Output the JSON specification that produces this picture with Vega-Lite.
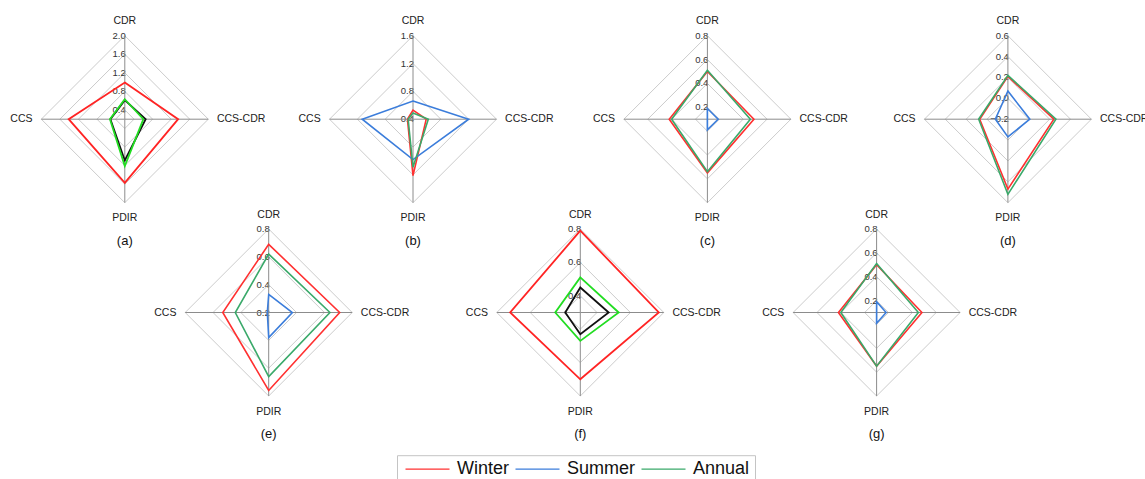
{
  "$schema": "https://vega.github.io/schema/vega-lite/v6.json",
  "padding": {"left": 0, "top": 15.7, "right": 0, "bottom": 0},
  "config": {
    "font": "Liberation Sans",
    "view": {"stroke": null},
    "legend": {"symbolType": "M-1,0H7", "symbolSize": 121, "symbolStrokeWidth": 1.3, "labelFontSize": 18, "labelColor": "#111111", "labelOffset": 37, "columnPadding": 2, "strokeColor": "#c4c4c4", "padding": 5, "labelFont": "Liberation Sans"}
  },
  "datasets": {
    "axes": [{"axis": "CDR"}, {"axis": "CCS-CDR"}, {"axis": "PDIR"}, {"axis": "CCS"}],
    "radar": [
      {"panel": "a", "season": "Winter", "axis": "CDR", "value": 0.99},
      {"panel": "a", "season": "Winter", "axis": "CCS-CDR", "value": 1.35},
      {"panel": "a", "season": "Winter", "axis": "PDIR", "value": 1.57},
      {"panel": "a", "season": "Winter", "axis": "CCS", "value": 1.41},
      {"panel": "a", "season": "Summer", "axis": "CDR", "value": 0.61},
      {"panel": "a", "season": "Summer", "axis": "CCS-CDR", "value": 0.65},
      {"panel": "a", "season": "Summer", "axis": "PDIR", "value": 1.09},
      {"panel": "a", "season": "Summer", "axis": "CCS", "value": 0.51},
      {"panel": "a", "season": "Annual", "axis": "CDR", "value": 0.63},
      {"panel": "a", "season": "Annual", "axis": "CCS-CDR", "value": 0.6},
      {"panel": "a", "season": "Annual", "axis": "PDIR", "value": 1.21},
      {"panel": "a", "season": "Annual", "axis": "CCS", "value": 0.52},
      {"panel": "b", "season": "Winter", "axis": "CDR", "value": 0.53},
      {"panel": "b", "season": "Winter", "axis": "CCS-CDR", "value": 0.59},
      {"panel": "b", "season": "Winter", "axis": "PDIR", "value": 1.21},
      {"panel": "b", "season": "Winter", "axis": "CCS", "value": 0.48},
      {"panel": "b", "season": "Summer", "axis": "CDR", "value": 0.66},
      {"panel": "b", "season": "Summer", "axis": "CCS-CDR", "value": 1.2},
      {"panel": "b", "season": "Summer", "axis": "PDIR", "value": 0.98},
      {"panel": "b", "season": "Summer", "axis": "CCS", "value": 1.13},
      {"panel": "b", "season": "Annual", "axis": "CDR", "value": 0.49},
      {"panel": "b", "season": "Annual", "axis": "CCS-CDR", "value": 0.62},
      {"panel": "b", "season": "Annual", "axis": "PDIR", "value": 1.09},
      {"panel": "b", "season": "Annual", "axis": "CCS", "value": 0.47},
      {"panel": "c", "season": "Winter", "axis": "CDR", "value": 0.5},
      {"panel": "c", "season": "Winter", "axis": "CCS-CDR", "value": 0.49},
      {"panel": "c", "season": "Winter", "axis": "PDIR", "value": 0.55},
      {"panel": "c", "season": "Winter", "axis": "CCS", "value": 0.42},
      {"panel": "c", "season": "Summer", "axis": "CDR", "value": 0.19},
      {"panel": "c", "season": "Summer", "axis": "CCS-CDR", "value": 0.19},
      {"panel": "c", "season": "Summer", "axis": "PDIR", "value": 0.19},
      {"panel": "c", "season": "Summer", "axis": "CCS", "value": 0.1},
      {"panel": "c", "season": "Annual", "axis": "CDR", "value": 0.51},
      {"panel": "c", "season": "Annual", "axis": "CCS-CDR", "value": 0.46},
      {"panel": "c", "season": "Annual", "axis": "PDIR", "value": 0.54},
      {"panel": "c", "season": "Annual", "axis": "CCS", "value": 0.4},
      {"panel": "d", "season": "Winter", "axis": "CDR", "value": 0.21},
      {"panel": "d", "season": "Winter", "axis": "CCS-CDR", "value": 0.24},
      {"panel": "d", "season": "Winter", "axis": "PDIR", "value": 0.47},
      {"panel": "d", "season": "Winter", "axis": "CCS", "value": 0.07},
      {"panel": "d", "season": "Summer", "axis": "CDR", "value": 0.07},
      {"panel": "d", "season": "Summer", "axis": "CCS-CDR", "value": 0.01},
      {"panel": "d", "season": "Summer", "axis": "PDIR", "value": -0.03},
      {"panel": "d", "season": "Summer", "axis": "CCS", "value": -0.08},
      {"panel": "d", "season": "Annual", "axis": "CDR", "value": 0.22},
      {"panel": "d", "season": "Annual", "axis": "CCS-CDR", "value": 0.26},
      {"panel": "d", "season": "Annual", "axis": "PDIR", "value": 0.52},
      {"panel": "d", "season": "Annual", "axis": "CCS", "value": 0.08},
      {"panel": "e", "season": "Winter", "axis": "CDR", "value": 0.69},
      {"panel": "e", "season": "Winter", "axis": "CCS-CDR", "value": 0.71},
      {"panel": "e", "season": "Winter", "axis": "PDIR", "value": 0.76},
      {"panel": "e", "season": "Winter", "axis": "CCS", "value": 0.53},
      {"panel": "e", "season": "Summer", "axis": "CDR", "value": 0.33},
      {"panel": "e", "season": "Summer", "axis": "CCS-CDR", "value": 0.37},
      {"panel": "e", "season": "Summer", "axis": "PDIR", "value": 0.38},
      {"panel": "e", "season": "Summer", "axis": "CCS", "value": 0.21},
      {"panel": "e", "season": "Annual", "axis": "CDR", "value": 0.62},
      {"panel": "e", "season": "Annual", "axis": "CCS-CDR", "value": 0.64},
      {"panel": "e", "season": "Annual", "axis": "PDIR", "value": 0.66},
      {"panel": "e", "season": "Annual", "axis": "CCS", "value": 0.44},
      {"panel": "f", "season": "Winter", "axis": "CDR", "value": 0.79},
      {"panel": "f", "season": "Winter", "axis": "CCS-CDR", "value": 0.77},
      {"panel": "f", "season": "Winter", "axis": "PDIR", "value": 0.7},
      {"panel": "f", "season": "Winter", "axis": "CCS", "value": 0.72},
      {"panel": "f", "season": "Summer", "axis": "CDR", "value": 0.45},
      {"panel": "f", "season": "Summer", "axis": "CCS-CDR", "value": 0.47},
      {"panel": "f", "season": "Summer", "axis": "PDIR", "value": 0.43},
      {"panel": "f", "season": "Summer", "axis": "CCS", "value": 0.39},
      {"panel": "f", "season": "Annual", "axis": "CDR", "value": 0.51},
      {"panel": "f", "season": "Annual", "axis": "CCS-CDR", "value": 0.53},
      {"panel": "f", "season": "Annual", "axis": "PDIR", "value": 0.47},
      {"panel": "f", "season": "Annual", "axis": "CCS", "value": 0.45},
      {"panel": "g", "season": "Winter", "axis": "CDR", "value": 0.5},
      {"panel": "g", "season": "Winter", "axis": "CCS-CDR", "value": 0.48},
      {"panel": "g", "season": "Winter", "axis": "PDIR", "value": 0.55},
      {"panel": "g", "season": "Winter", "axis": "CCS", "value": 0.42},
      {"panel": "g", "season": "Summer", "axis": "CDR", "value": 0.19},
      {"panel": "g", "season": "Summer", "axis": "CCS-CDR", "value": 0.18},
      {"panel": "g", "season": "Summer", "axis": "PDIR", "value": 0.19},
      {"panel": "g", "season": "Summer", "axis": "CCS", "value": 0.1},
      {"panel": "g", "season": "Annual", "axis": "CDR", "value": 0.51},
      {"panel": "g", "season": "Annual", "axis": "CCS-CDR", "value": 0.45},
      {"panel": "g", "season": "Annual", "axis": "PDIR", "value": 0.55},
      {"panel": "g", "season": "Annual", "axis": "CCS", "value": 0.4}
    ]
  },
  "spacing": 0,
  "bounds": "flush",
  "hconcat": [
    {
      "width": 249.6, "height": 360.3,
      "encoding": {
        "x": {"field": "x", "type": "quantitative", "scale": {"domain": [-2.6903, 2.6903]}, "axis": null},
        "y": {"field": "y", "type": "quantitative", "scale": {"domain": [-5.9669, 1.8]}, "axis": null}
      },
      "layer": [
        {
          "data": {"values": [{"level": 0.4}, {"level": 0.8}, {"level": 1.2}, {"level": 1.6}, {"level": 2.0}]},
          "transform": [
            {"calculate": "['CDR','CCS-CDR','PDIR','CCS']", "as": "axis"},
            {"flatten": ["axis"]},
            {"calculate": "datum.level - 0.2", "as": "r"},
            {"calculate": "datum.axis === 'CCS-CDR' ? datum.r : datum.axis === 'CCS' ? -datum.r : 0", "as": "x"},
            {"calculate": "datum.axis === 'CDR' ? datum.r : datum.axis === 'PDIR' ? -datum.r : 0", "as": "y"}
          ],
          "layer": [
            {"transform": [{"filter": "datum.r > 0.0001"}], "mark": {"type": "line", "interpolate": "linear-closed", "stroke": "#cccccc", "strokeWidth": 1}, "encoding": {"detail": {"field": "level", "type": "nominal"}, "order": {"value": null}}},
            {"transform": [{"filter": "datum.axis === 'CDR'"}], "mark": {"type": "text", "align": "right", "baseline": "middle", "dx": 1, "fontSize": 9.5, "color": "#333333"}, "encoding": {"text": {"field": "level", "type": "quantitative", "format": ".1f"}}}
          ]
        },
        {
          "data": {"name": "axes"},
          "transform": [
            {"calculate": "1.8", "as": "r"},
            {"calculate": "datum.axis === 'CCS-CDR' ? datum.r : datum.axis === 'CCS' ? -datum.r : 0", "as": "x"},
            {"calculate": "datum.axis === 'CDR' ? datum.r : datum.axis === 'PDIR' ? -datum.r : 0", "as": "y"}
          ],
          "layer": [
            {"mark": {"type": "rule", "stroke": "#8c8c8c", "strokeWidth": 1}, "encoding": {"x": {"datum": 0}, "y": {"datum": 0}, "x2": {"field": "x"}, "y2": {"field": "y"}}},
            {
              "mark": {
                "type": "text", "fontSize": 10.5, "color": "#222222",
                "align": {"expr": "datum.axis === 'CCS' ? 'right' : datum.axis === 'CCS-CDR' ? 'left' : 'center'"},
                "baseline": {"expr": "datum.axis === 'CDR' || datum.axis === 'PDIR' ? 'alphabetic' : 'middle'"},
                "dx": {"expr": "datum.axis === 'CCS' ? -8.8 : datum.axis === 'CCS-CDR' ? 8.6 : 0"},
                "dy": {"expr": "datum.axis === 'CDR' ? -11.4 : datum.axis === 'PDIR' ? 18.5 : 0"}
              },
              "encoding": {"text": {"field": "axis"}}
            },
            {"transform": [{"filter": "datum.axis === 'PDIR'"}], "mark": {"type": "text", "baseline": "middle", "dy": 38, "fontSize": 13, "color": "#111111"}, "encoding": {"text": {"value": "(a)"}}}
          ]
        },
        {
          "data": {"name": "radar"},
          "transform": [
            {"filter": "datum.panel === 'a'"},
            {"calculate": "datum.value - 0.2", "as": "r"},
            {"calculate": "datum.axis === 'CCS-CDR' ? datum.r : datum.axis === 'CCS' ? -datum.r : 0", "as": "x"},
            {"calculate": "datum.axis === 'CDR' ? datum.r : datum.axis === 'PDIR' ? -datum.r : 0", "as": "y"}
          ],
          "mark": {"type": "line", "interpolate": "linear-closed", "strokeWidth": 1.8},
          "encoding": {
            "color": {"condition": [{"test": "datum.season === 'Winter'", "value": "#ff2424"}, {"test": "datum.season === 'Summer'", "value": "#111111"}], "value": "#22dd22"},
            "detail": {"field": "season", "type": "nominal"},
            "order": {"value": null}
          }
        }
      ]
    },
    {
      "width": 37.4, "height": 360.3,
      "encoding": {
        "x": {"field": "x", "type": "quantitative", "scale": {"domain": [-0.13437, 0.13437]}, "axis": null},
        "y": {"field": "y", "type": "quantitative", "scale": {"domain": [-0.6, 1.989]}, "axis": null}
      },
      "layer": [
        {
          "data": {"values": [{"level": 0.2}, {"level": 0.4}, {"level": 0.6}, {"level": 0.8}]},
          "transform": [
            {"calculate": "['CDR','CCS-CDR','PDIR','CCS']", "as": "axis"},
            {"flatten": ["axis"]},
            {"calculate": "datum.level - 0.2", "as": "r"},
            {"calculate": "datum.axis === 'CCS-CDR' ? datum.r : datum.axis === 'CCS' ? -datum.r : 0", "as": "x"},
            {"calculate": "datum.axis === 'CDR' ? datum.r : datum.axis === 'PDIR' ? -datum.r : 0", "as": "y"}
          ],
          "layer": [
            {"transform": [{"filter": "datum.r > 0.0001"}], "mark": {"type": "line", "interpolate": "linear-closed", "stroke": "#cccccc", "strokeWidth": 1}, "encoding": {"detail": {"field": "level", "type": "nominal"}, "order": {"value": null}}},
            {"transform": [{"filter": "datum.axis === 'CDR'"}], "mark": {"type": "text", "align": "right", "baseline": "middle", "dx": 1, "fontSize": 9.5, "color": "#333333"}, "encoding": {"text": {"field": "level", "type": "quantitative", "format": ".1f"}}}
          ]
        },
        {
          "data": {"name": "axes"},
          "transform": [
            {"calculate": "0.6", "as": "r"},
            {"calculate": "datum.axis === 'CCS-CDR' ? datum.r : datum.axis === 'CCS' ? -datum.r : 0", "as": "x"},
            {"calculate": "datum.axis === 'CDR' ? datum.r : datum.axis === 'PDIR' ? -datum.r : 0", "as": "y"}
          ],
          "layer": [
            {"mark": {"type": "rule", "stroke": "#8c8c8c", "strokeWidth": 1}, "encoding": {"x": {"datum": 0}, "y": {"datum": 0}, "x2": {"field": "x"}, "y2": {"field": "y"}}},
            {
              "mark": {
                "type": "text", "fontSize": 10.5, "color": "#222222",
                "align": {"expr": "datum.axis === 'CCS' ? 'right' : datum.axis === 'CCS-CDR' ? 'left' : 'center'"},
                "baseline": {"expr": "datum.axis === 'CDR' || datum.axis === 'PDIR' ? 'alphabetic' : 'middle'"},
                "dx": {"expr": "datum.axis === 'CCS' ? -8.8 : datum.axis === 'CCS-CDR' ? 8.6 : 0"},
                "dy": {"expr": "datum.axis === 'CDR' ? -11.4 : datum.axis === 'PDIR' ? 18.5 : 0"}
              },
              "encoding": {"text": {"field": "axis"}}
            },
            {"transform": [{"filter": "datum.axis === 'PDIR'"}], "mark": {"type": "text", "baseline": "middle", "dy": 38, "fontSize": 13, "color": "#111111"}, "encoding": {"text": {"value": "(e)"}}}
          ]
        },
        {
          "data": {"name": "radar"},
          "transform": [
            {"filter": "datum.panel === 'e'"},
            {"calculate": "datum.value - 0.2", "as": "r"},
            {"calculate": "datum.axis === 'CCS-CDR' ? datum.r : datum.axis === 'CCS' ? -datum.r : 0", "as": "x"},
            {"calculate": "datum.axis === 'CDR' ? datum.r : datum.axis === 'PDIR' ? -datum.r : 0", "as": "y"}
          ],
          "mark": {"type": "line", "interpolate": "linear-closed", "strokeWidth": 1.6},
          "encoding": {
            "color": {"field": "season", "type": "nominal", "scale": {"domain": ["Winter", "Summer", "Annual"], "range": ["#ff3030", "#3b7ddb", "#3aa96a"]}, "legend": {"orient": "none", "legendX": 397, "legendY": 419.5, "direction": "horizontal", "title": null}},
            "order": {"value": null}
          }
        }
      ]
    },
    {
      "width": 250, "height": 360.3,
      "encoding": {
        "x": {"field": "x", "type": "quantitative", "scale": {"domain": [-1.79641, 1.79641]}, "axis": null},
        "y": {"field": "y", "type": "quantitative", "scale": {"domain": [-3.978, 1.2]}, "axis": null}
      },
      "layer": [
        {
          "data": {"values": [{"level": 0.4}, {"level": 0.8}, {"level": 1.2}, {"level": 1.6}]},
          "transform": [
            {"calculate": "['CDR','CCS-CDR','PDIR','CCS']", "as": "axis"},
            {"flatten": ["axis"]},
            {"calculate": "datum.level - 0.4", "as": "r"},
            {"calculate": "datum.axis === 'CCS-CDR' ? datum.r : datum.axis === 'CCS' ? -datum.r : 0", "as": "x"},
            {"calculate": "datum.axis === 'CDR' ? datum.r : datum.axis === 'PDIR' ? -datum.r : 0", "as": "y"}
          ],
          "layer": [
            {"transform": [{"filter": "datum.r > 0.0001"}], "mark": {"type": "line", "interpolate": "linear-closed", "stroke": "#cccccc", "strokeWidth": 1}, "encoding": {"detail": {"field": "level", "type": "nominal"}, "order": {"value": null}}},
            {"transform": [{"filter": "datum.axis === 'CDR'"}], "mark": {"type": "text", "align": "right", "baseline": "middle", "dx": 1, "fontSize": 9.5, "color": "#333333"}, "encoding": {"text": {"field": "level", "type": "quantitative", "format": ".1f"}}}
          ]
        },
        {
          "data": {"name": "axes"},
          "transform": [
            {"calculate": "1.2", "as": "r"},
            {"calculate": "datum.axis === 'CCS-CDR' ? datum.r : datum.axis === 'CCS' ? -datum.r : 0", "as": "x"},
            {"calculate": "datum.axis === 'CDR' ? datum.r : datum.axis === 'PDIR' ? -datum.r : 0", "as": "y"}
          ],
          "layer": [
            {"mark": {"type": "rule", "stroke": "#8c8c8c", "strokeWidth": 1}, "encoding": {"x": {"datum": 0}, "y": {"datum": 0}, "x2": {"field": "x"}, "y2": {"field": "y"}}},
            {
              "mark": {
                "type": "text", "fontSize": 10.5, "color": "#222222",
                "align": {"expr": "datum.axis === 'CCS' ? 'right' : datum.axis === 'CCS-CDR' ? 'left' : 'center'"},
                "baseline": {"expr": "datum.axis === 'CDR' || datum.axis === 'PDIR' ? 'alphabetic' : 'middle'"},
                "dx": {"expr": "datum.axis === 'CCS' ? -8.8 : datum.axis === 'CCS-CDR' ? 8.6 : 0"},
                "dy": {"expr": "datum.axis === 'CDR' ? -11.4 : datum.axis === 'PDIR' ? 18.5 : 0"}
              },
              "encoding": {"text": {"field": "axis"}}
            },
            {"transform": [{"filter": "datum.axis === 'PDIR'"}], "mark": {"type": "text", "baseline": "middle", "dy": 38, "fontSize": 13, "color": "#111111"}, "encoding": {"text": {"value": "(b)"}}}
          ]
        },
        {
          "data": {"name": "radar"},
          "transform": [
            {"filter": "datum.panel === 'b'"},
            {"calculate": "datum.value - 0.4", "as": "r"},
            {"calculate": "datum.axis === 'CCS-CDR' ? datum.r : datum.axis === 'CCS' ? -datum.r : 0", "as": "x"},
            {"calculate": "datum.axis === 'CDR' ? datum.r : datum.axis === 'PDIR' ? -datum.r : 0", "as": "y"}
          ],
          "mark": {"type": "line", "interpolate": "linear-closed", "strokeWidth": 1.6},
          "encoding": {
            "color": {"field": "season", "type": "nominal", "scale": {"domain": ["Winter", "Summer", "Annual"], "range": ["#ff3030", "#3b7ddb", "#3aa96a"]}, "legend": {"orient": "none", "legendX": 397, "legendY": 419.5, "direction": "horizontal", "title": null}},
            "order": {"value": null}
          }
        }
      ]
    },
    {
      "width": 84.6, "height": 360.3,
      "encoding": {
        "x": {"field": "x", "type": "quantitative", "scale": {"domain": [-0.25329, 0.25329]}, "axis": null},
        "y": {"field": "y", "type": "quantitative", "scale": {"domain": [-0.5, 1.6575]}, "axis": null}
      },
      "layer": [
        {
          "data": {"values": [{"level": 0.4}, {"level": 0.6}, {"level": 0.8}]},
          "transform": [
            {"calculate": "['CDR','CCS-CDR','PDIR','CCS']", "as": "axis"},
            {"flatten": ["axis"]},
            {"calculate": "datum.level - 0.3", "as": "r"},
            {"calculate": "datum.axis === 'CCS-CDR' ? datum.r : datum.axis === 'CCS' ? -datum.r : 0", "as": "x"},
            {"calculate": "datum.axis === 'CDR' ? datum.r : datum.axis === 'PDIR' ? -datum.r : 0", "as": "y"}
          ],
          "layer": [
            {"transform": [{"filter": "datum.r > 0.0001"}], "mark": {"type": "line", "interpolate": "linear-closed", "stroke": "#cccccc", "strokeWidth": 1}, "encoding": {"detail": {"field": "level", "type": "nominal"}, "order": {"value": null}}},
            {"transform": [{"filter": "datum.axis === 'CDR'"}], "mark": {"type": "text", "align": "right", "baseline": "middle", "dx": 1, "fontSize": 9.5, "color": "#333333"}, "encoding": {"text": {"field": "level", "type": "quantitative", "format": ".1f"}}}
          ]
        },
        {
          "data": {"name": "axes"},
          "transform": [
            {"calculate": "0.5", "as": "r"},
            {"calculate": "datum.axis === 'CCS-CDR' ? datum.r : datum.axis === 'CCS' ? -datum.r : 0", "as": "x"},
            {"calculate": "datum.axis === 'CDR' ? datum.r : datum.axis === 'PDIR' ? -datum.r : 0", "as": "y"}
          ],
          "layer": [
            {"mark": {"type": "rule", "stroke": "#8c8c8c", "strokeWidth": 1}, "encoding": {"x": {"datum": 0}, "y": {"datum": 0}, "x2": {"field": "x"}, "y2": {"field": "y"}}},
            {
              "mark": {
                "type": "text", "fontSize": 10.5, "color": "#222222",
                "align": {"expr": "datum.axis === 'CCS' ? 'right' : datum.axis === 'CCS-CDR' ? 'left' : 'center'"},
                "baseline": {"expr": "datum.axis === 'CDR' || datum.axis === 'PDIR' ? 'alphabetic' : 'middle'"},
                "dx": {"expr": "datum.axis === 'CCS' ? -8.8 : datum.axis === 'CCS-CDR' ? 8.6 : 0"},
                "dy": {"expr": "datum.axis === 'CDR' ? -11.4 : datum.axis === 'PDIR' ? 18.5 : 0"}
              },
              "encoding": {"text": {"field": "axis"}}
            },
            {"transform": [{"filter": "datum.axis === 'PDIR'"}], "mark": {"type": "text", "baseline": "middle", "dy": 38, "fontSize": 13, "color": "#111111"}, "encoding": {"text": {"value": "(f)"}}}
          ]
        },
        {
          "data": {"name": "radar"},
          "transform": [
            {"filter": "datum.panel === 'f'"},
            {"calculate": "datum.value - 0.3", "as": "r"},
            {"calculate": "datum.axis === 'CCS-CDR' ? datum.r : datum.axis === 'CCS' ? -datum.r : 0", "as": "x"},
            {"calculate": "datum.axis === 'CDR' ? datum.r : datum.axis === 'PDIR' ? -datum.r : 0", "as": "y"}
          ],
          "mark": {"type": "line", "interpolate": "linear-closed", "strokeWidth": 1.8},
          "encoding": {
            "color": {"condition": [{"test": "datum.season === 'Winter'", "value": "#ff2424"}, {"test": "datum.season === 'Summer'", "value": "#111111"}], "value": "#22dd22"},
            "detail": {"field": "season", "type": "nominal"},
            "order": {"value": null}
          }
        }
      ]
    },
    {
      "width": 168.8, "height": 360.3,
      "encoding": {
        "x": {"field": "x", "type": "quantitative", "scale": {"domain": [-0.70754, 0.70754]}, "axis": null},
        "y": {"field": "y", "type": "quantitative", "scale": {"domain": [-2.3205, 0.7]}, "axis": null}
      },
      "layer": [
        {
          "data": {"values": [{"level": 0.2}, {"level": 0.4}, {"level": 0.6}, {"level": 0.8}]},
          "transform": [
            {"calculate": "['CDR','CCS-CDR','PDIR','CCS']", "as": "axis"},
            {"flatten": ["axis"]},
            {"calculate": "datum.level - 0.1", "as": "r"},
            {"calculate": "datum.axis === 'CCS-CDR' ? datum.r : datum.axis === 'CCS' ? -datum.r : 0", "as": "x"},
            {"calculate": "datum.axis === 'CDR' ? datum.r : datum.axis === 'PDIR' ? -datum.r : 0", "as": "y"}
          ],
          "layer": [
            {"transform": [{"filter": "datum.r > 0.0001"}], "mark": {"type": "line", "interpolate": "linear-closed", "stroke": "#cccccc", "strokeWidth": 1}, "encoding": {"detail": {"field": "level", "type": "nominal"}, "order": {"value": null}}},
            {"transform": [{"filter": "datum.axis === 'CDR'"}], "mark": {"type": "text", "align": "right", "baseline": "middle", "dx": 1, "fontSize": 9.5, "color": "#333333"}, "encoding": {"text": {"field": "level", "type": "quantitative", "format": ".1f"}}}
          ]
        },
        {
          "data": {"name": "axes"},
          "transform": [
            {"calculate": "0.7", "as": "r"},
            {"calculate": "datum.axis === 'CCS-CDR' ? datum.r : datum.axis === 'CCS' ? -datum.r : 0", "as": "x"},
            {"calculate": "datum.axis === 'CDR' ? datum.r : datum.axis === 'PDIR' ? -datum.r : 0", "as": "y"}
          ],
          "layer": [
            {"mark": {"type": "rule", "stroke": "#8c8c8c", "strokeWidth": 1}, "encoding": {"x": {"datum": 0}, "y": {"datum": 0}, "x2": {"field": "x"}, "y2": {"field": "y"}}},
            {
              "mark": {
                "type": "text", "fontSize": 10.5, "color": "#222222",
                "align": {"expr": "datum.axis === 'CCS' ? 'right' : datum.axis === 'CCS-CDR' ? 'left' : 'center'"},
                "baseline": {"expr": "datum.axis === 'CDR' || datum.axis === 'PDIR' ? 'alphabetic' : 'middle'"},
                "dx": {"expr": "datum.axis === 'CCS' ? -8.8 : datum.axis === 'CCS-CDR' ? 8.6 : 0"},
                "dy": {"expr": "datum.axis === 'CDR' ? -11.4 : datum.axis === 'PDIR' ? 18.5 : 0"}
              },
              "encoding": {"text": {"field": "axis"}}
            },
            {"transform": [{"filter": "datum.axis === 'PDIR'"}], "mark": {"type": "text", "baseline": "middle", "dy": 38, "fontSize": 13, "color": "#111111"}, "encoding": {"text": {"value": "(c)"}}}
          ]
        },
        {
          "data": {"name": "radar"},
          "transform": [
            {"filter": "datum.panel === 'c'"},
            {"calculate": "datum.value - 0.1", "as": "r"},
            {"calculate": "datum.axis === 'CCS-CDR' ? datum.r : datum.axis === 'CCS' ? -datum.r : 0", "as": "x"},
            {"calculate": "datum.axis === 'CDR' ? datum.r : datum.axis === 'PDIR' ? -datum.r : 0", "as": "y"}
          ],
          "mark": {"type": "line", "interpolate": "linear-closed", "strokeWidth": 1.6},
          "encoding": {
            "color": {"field": "season", "type": "nominal", "scale": {"domain": ["Winter", "Summer", "Annual"], "range": ["#ff3030", "#3b7ddb", "#3aa96a"]}, "legend": {"orient": "none", "legendX": 397, "legendY": 419.5, "direction": "horizontal", "title": null}},
            "order": {"value": null}
          }
        }
      ]
    },
    {
      "width": 169.2, "height": 360.3,
      "encoding": {
        "x": {"field": "x", "type": "quantitative", "scale": {"domain": [-0.70922, 0.70922]}, "axis": null},
        "y": {"field": "y", "type": "quantitative", "scale": {"domain": [-0.7, 2.3205]}, "axis": null}
      },
      "layer": [
        {
          "data": {"values": [{"level": 0.2}, {"level": 0.4}, {"level": 0.6}, {"level": 0.8}]},
          "transform": [
            {"calculate": "['CDR','CCS-CDR','PDIR','CCS']", "as": "axis"},
            {"flatten": ["axis"]},
            {"calculate": "datum.level - 0.1", "as": "r"},
            {"calculate": "datum.axis === 'CCS-CDR' ? datum.r : datum.axis === 'CCS' ? -datum.r : 0", "as": "x"},
            {"calculate": "datum.axis === 'CDR' ? datum.r : datum.axis === 'PDIR' ? -datum.r : 0", "as": "y"}
          ],
          "layer": [
            {"transform": [{"filter": "datum.r > 0.0001"}], "mark": {"type": "line", "interpolate": "linear-closed", "stroke": "#cccccc", "strokeWidth": 1}, "encoding": {"detail": {"field": "level", "type": "nominal"}, "order": {"value": null}}},
            {"transform": [{"filter": "datum.axis === 'CDR'"}], "mark": {"type": "text", "align": "right", "baseline": "middle", "dx": 1, "fontSize": 9.5, "color": "#333333"}, "encoding": {"text": {"field": "level", "type": "quantitative", "format": ".1f"}}}
          ]
        },
        {
          "data": {"name": "axes"},
          "transform": [
            {"calculate": "0.7", "as": "r"},
            {"calculate": "datum.axis === 'CCS-CDR' ? datum.r : datum.axis === 'CCS' ? -datum.r : 0", "as": "x"},
            {"calculate": "datum.axis === 'CDR' ? datum.r : datum.axis === 'PDIR' ? -datum.r : 0", "as": "y"}
          ],
          "layer": [
            {"mark": {"type": "rule", "stroke": "#8c8c8c", "strokeWidth": 1}, "encoding": {"x": {"datum": 0}, "y": {"datum": 0}, "x2": {"field": "x"}, "y2": {"field": "y"}}},
            {
              "mark": {
                "type": "text", "fontSize": 10.5, "color": "#222222",
                "align": {"expr": "datum.axis === 'CCS' ? 'right' : datum.axis === 'CCS-CDR' ? 'left' : 'center'"},
                "baseline": {"expr": "datum.axis === 'CDR' || datum.axis === 'PDIR' ? 'alphabetic' : 'middle'"},
                "dx": {"expr": "datum.axis === 'CCS' ? -8.8 : datum.axis === 'CCS-CDR' ? 8.6 : 0"},
                "dy": {"expr": "datum.axis === 'CDR' ? -11.4 : datum.axis === 'PDIR' ? 18.5 : 0"}
              },
              "encoding": {"text": {"field": "axis"}}
            },
            {"transform": [{"filter": "datum.axis === 'PDIR'"}], "mark": {"type": "text", "baseline": "middle", "dy": 38, "fontSize": 13, "color": "#111111"}, "encoding": {"text": {"value": "(g)"}}}
          ]
        },
        {
          "data": {"name": "radar"},
          "transform": [
            {"filter": "datum.panel === 'g'"},
            {"calculate": "datum.value - 0.1", "as": "r"},
            {"calculate": "datum.axis === 'CCS-CDR' ? datum.r : datum.axis === 'CCS' ? -datum.r : 0", "as": "x"},
            {"calculate": "datum.axis === 'CDR' ? datum.r : datum.axis === 'PDIR' ? -datum.r : 0", "as": "y"}
          ],
          "mark": {"type": "line", "interpolate": "linear-closed", "strokeWidth": 1.6},
          "encoding": {
            "color": {"field": "season", "type": "nominal", "scale": {"domain": ["Winter", "Summer", "Annual"], "range": ["#ff3030", "#3b7ddb", "#3aa96a"]}, "legend": {"orient": "none", "legendX": 397, "legendY": 419.5, "direction": "horizontal", "title": null}},
            "order": {"value": null}
          }
        }
      ]
    },
    {
      "width": 91.8, "height": 360.3,
      "encoding": {
        "x": {"field": "x", "type": "quantitative", "scale": {"domain": [-0.43976, 0.43976]}, "axis": null},
        "y": {"field": "y", "type": "quantitative", "scale": {"domain": [-2.652, 0.8]}, "axis": null}
      },
      "layer": [
        {
          "data": {"values": [{"level": -0.2}, {"level": 0.0}, {"level": 0.2}, {"level": 0.4}, {"level": 0.6}]},
          "transform": [
            {"calculate": "['CDR','CCS-CDR','PDIR','CCS']", "as": "axis"},
            {"flatten": ["axis"]},
            {"calculate": "datum.level + 0.2", "as": "r"},
            {"calculate": "datum.axis === 'CCS-CDR' ? datum.r : datum.axis === 'CCS' ? -datum.r : 0", "as": "x"},
            {"calculate": "datum.axis === 'CDR' ? datum.r : datum.axis === 'PDIR' ? -datum.r : 0", "as": "y"}
          ],
          "layer": [
            {"transform": [{"filter": "datum.r > 0.0001"}], "mark": {"type": "line", "interpolate": "linear-closed", "stroke": "#cccccc", "strokeWidth": 1}, "encoding": {"detail": {"field": "level", "type": "nominal"}, "order": {"value": null}}},
            {"transform": [{"filter": "datum.axis === 'CDR'"}], "mark": {"type": "text", "align": "right", "baseline": "middle", "dx": 1, "fontSize": 9.5, "color": "#333333"}, "encoding": {"text": {"field": "level", "type": "quantitative", "format": ".1f"}}}
          ]
        },
        {
          "data": {"name": "axes"},
          "transform": [
            {"calculate": "0.8", "as": "r"},
            {"calculate": "datum.axis === 'CCS-CDR' ? datum.r : datum.axis === 'CCS' ? -datum.r : 0", "as": "x"},
            {"calculate": "datum.axis === 'CDR' ? datum.r : datum.axis === 'PDIR' ? -datum.r : 0", "as": "y"}
          ],
          "layer": [
            {"mark": {"type": "rule", "stroke": "#8c8c8c", "strokeWidth": 1}, "encoding": {"x": {"datum": 0}, "y": {"datum": 0}, "x2": {"field": "x"}, "y2": {"field": "y"}}},
            {
              "mark": {
                "type": "text", "fontSize": 10.5, "color": "#222222",
                "align": {"expr": "datum.axis === 'CCS' ? 'right' : datum.axis === 'CCS-CDR' ? 'left' : 'center'"},
                "baseline": {"expr": "datum.axis === 'CDR' || datum.axis === 'PDIR' ? 'alphabetic' : 'middle'"},
                "dx": {"expr": "datum.axis === 'CCS' ? -8.8 : datum.axis === 'CCS-CDR' ? 8.6 : 0"},
                "dy": {"expr": "datum.axis === 'CDR' ? -11.4 : datum.axis === 'PDIR' ? 18.5 : 0"}
              },
              "encoding": {"text": {"field": "axis"}}
            },
            {"transform": [{"filter": "datum.axis === 'PDIR'"}], "mark": {"type": "text", "baseline": "middle", "dy": 38, "fontSize": 13, "color": "#111111"}, "encoding": {"text": {"value": "(d)"}}}
          ]
        },
        {
          "data": {"name": "radar"},
          "transform": [
            {"filter": "datum.panel === 'd'"},
            {"calculate": "datum.value + 0.2", "as": "r"},
            {"calculate": "datum.axis === 'CCS-CDR' ? datum.r : datum.axis === 'CCS' ? -datum.r : 0", "as": "x"},
            {"calculate": "datum.axis === 'CDR' ? datum.r : datum.axis === 'PDIR' ? -datum.r : 0", "as": "y"}
          ],
          "mark": {"type": "line", "interpolate": "linear-closed", "strokeWidth": 1.6},
          "encoding": {
            "color": {"field": "season", "type": "nominal", "scale": {"domain": ["Winter", "Summer", "Annual"], "range": ["#ff3030", "#3b7ddb", "#3aa96a"]}, "legend": {"orient": "none", "legendX": 397, "legendY": 419.5, "direction": "horizontal", "title": null}},
            "order": {"value": null}
          }
        }
      ]
    }
  ]
}
